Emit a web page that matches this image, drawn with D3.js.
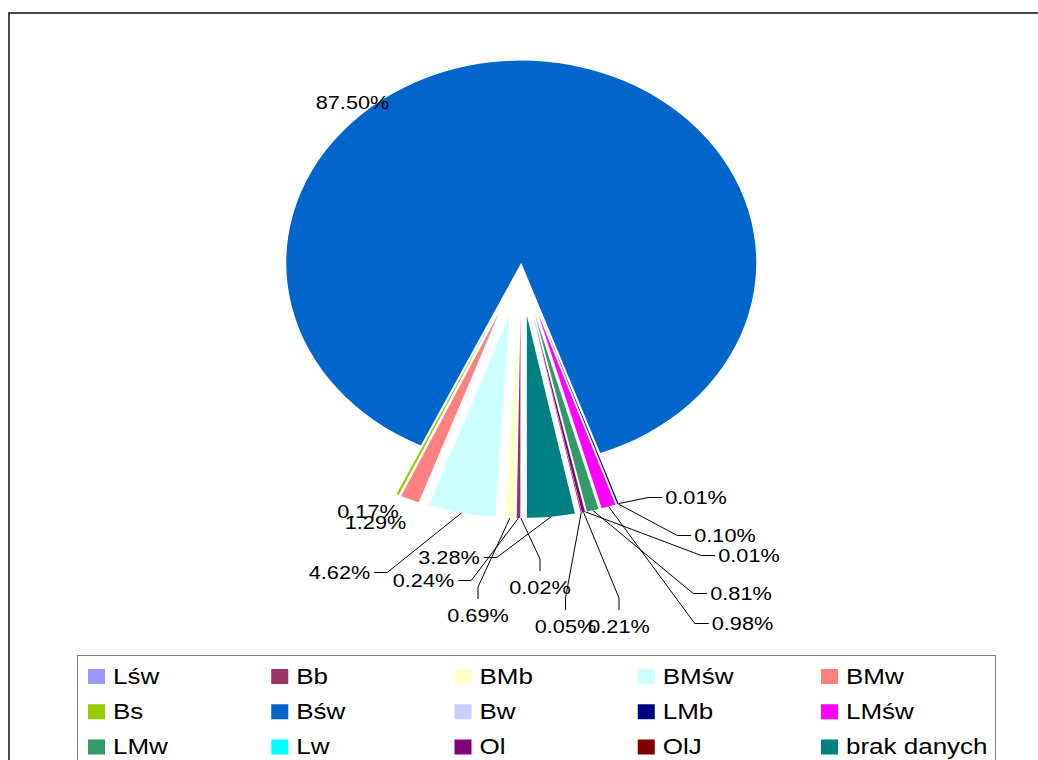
<!DOCTYPE html>
<html><head><meta charset="utf-8">
<script src="https://cdn.jsdelivr.net/npm/d3@7"></script>
<style>
body{margin:0;background:#fff}
svg{display:block}
text{font-family:"Liberation Sans",Arial,sans-serif;fill:#000}
</style>
</head><body>
<svg id="chart" width="1038" height="760"></svg>
<script>
// ---- data ----
const categories = ["Lśw","Bb","BMb","BMśw","BMw","Bs","Bśw","Bw","LMb","LMśw","LMw","Lw","Ol","OlJ","brak danych"];
const shares     = [0.02, 0.24, 0.69, 4.62, 1.29, 0.17, 87.50, 0.01, 0.10, 0.98, 0.81, 0.01, 0.21, 0.05, 3.28];
const colors     = ["#9999FF","#993366","#FFFFCC","#CCFFFF","#FF8080","#99CC00","#0066CC","#CCCCFF","#000080","#FF00FF","#339966","#00FFFF","#800080","#800000","#008080"];

// ---- layout (not data) ----
const explodeBy  = [57,57,57,57,57,57,5,57,57,57,57,57,57,57,57];
// label centre x / baseline y
const labelPos   = [[540,594],[423.5,587],[478,622],[339.5,579],[375.5,529],[368,518],[352.5,109],
                    [696,504],[725,542],[742.5,630],[741,600],[749,562],[619,633],[565.5,633],[449,564]];
const showLeader = [true,true,true,true,false,false,false,true,true,true,true,true,true,true,true];

const W = 1038, H = 760;
const cx = 521, cy = 267, R = 235, SY = 0.86;
const svg = d3.select("#chart");

// chart border (runs off right/bottom)
svg.append("rect").attr("x",9).attr("y",13).attr("width",1100).attr("height",900)
  .attr("fill","none").attr("stroke","#1e1e1e").attr("stroke-width",1.6);

const pie = d3.pie().sort(null).value(d => d).startAngle(Math.PI).endAngle(3*Math.PI);
const arcs = pie(shares);
const arc = d3.arc().innerRadius(0).outerRadius(R);

const gp = svg.append("g").attr("transform",`translate(${cx},${cy}) scale(1,${SY})`);
gp.selectAll("path").data(arcs).join("path")
  .attr("d", arc)
  .attr("fill", (d,i) => colors[i])
  .attr("transform", (d,i) => {
    const m = (d.startAngle + d.endAngle)/2, e = explodeBy[i];
    return `translate(${e*Math.sin(m)},${-e*Math.cos(m)})`;
  });

// labels + leaders
const FS = 21.7;
const gl = svg.append("g");
arcs.forEach((d,i) => {
  const m = (d.startAngle + d.endAngle)/2;
  const rr = explodeBy[i] + R;
  const ax = cx + rr*Math.sin(m), ay = cy - SY*rr*Math.cos(m);
  const [lx, ly] = labelPos[i];
  const t = gl.append("text")
    .attr("transform",`translate(${lx},${ly}) scale(1,${SY})`)
    .attr("text-anchor","middle").attr("font-size",FS)
    .text(shares[i].toFixed(2) + "%");
  if (!showLeader[i]) return;
  const w = t.node().getComputedTextLength();
  const midY = ly - 6.5;
  const dx = lx - ax, dy = midY - ay;
  let pts;
  if (Math.abs(dx) > Math.abs(dy)*0.8) {
    if (dx > 0) {
      const ex = lx - w/2 - 3;
      pts = [[ax,ay],[ex-14,midY],[ex,midY]];
    } else {
      const ex = lx + w/2 + 4;
      pts = [[ax,ay],[ex+13,midY],[ex,midY]];
    }
  } else {
    const bot = ly - 23;
    pts = [[ax,ay],[lx,bot-12],[lx,bot]];
  }
  gl.append("path").attr("d", d3.line()(pts))
    .attr("fill","none").attr("stroke","#000").attr("stroke-width",1);
});

// legend
const lg = svg.append("g");
lg.append("rect").attr("x",77.5).attr("y",655.5).attr("width",918).attr("height",200)
  .attr("fill","#fff").attr("stroke","#808080").attr("stroke-width",1);
const colX = d3.scalePoint().domain(d3.range(5)).range([88, 88+4*183.25]);
const rowY = d3.scalePoint().domain(d3.range(3)).range([669, 739.5]);
categories.forEach((c,i) => {
  const x = colX(i % 5), y = rowY(Math.floor(i/5));
  lg.append("rect").attr("x",x).attr("y",y).attr("width",17).attr("height",15).attr("fill",colors[i]);
  lg.append("text").attr("transform",`translate(${x+25},${y+14.5}) scale(1,${SY})`)
    .attr("font-size",26).text(c);
});
</script>
</body></html>
